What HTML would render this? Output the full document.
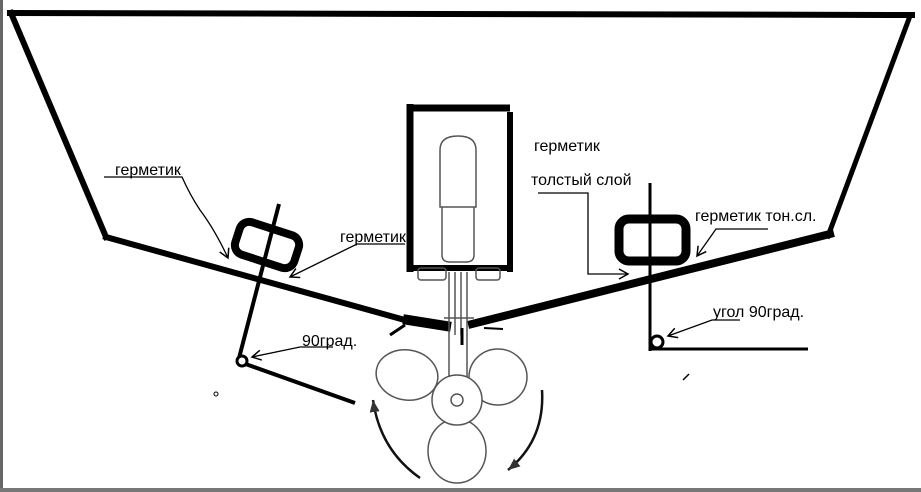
<!DOCTYPE html>
<html><head><meta charset="utf-8"><style>
html,body{margin:0;padding:0;background:#fff;}
svg{display:block}
text{font-family:"Liberation Sans",sans-serif;font-size:16px;fill:#000}
</style></head><body>
<svg width="921" height="492" viewBox="0 0 921 492" xmlns="http://www.w3.org/2000/svg">
<rect x="0" y="0" width="921" height="492" fill="#fff"/>
<rect x="0" y="0" width="3" height="492" fill="#666"/>
<rect x="0" y="488" width="921" height="4" fill="#777"/>
<defs><marker id="a" markerWidth="12" markerHeight="12" refX="10" refY="6" orient="auto" markerUnits="userSpaceOnUse"><path d="M1,1 L10,6 L1,11" fill="none" stroke="#000" stroke-width="1.5"/></marker>
<marker id="f" markerWidth="14" markerHeight="14" refX="12" refY="7" orient="auto" markerUnits="userSpaceOnUse"><path d="M0,2 L12,7 L0,12 Z" fill="#333"/></marker></defs>
<g stroke="#000" fill="none" stroke-linecap="square">
<path d="M10,13 L912,15" stroke-width="6"/>
<path d="M11,13 L106,237" stroke-width="6"/>
<path d="M910,16 L828,236" stroke-width="5"/>
<path d="M106,237 L412,322" stroke-width="6"/>
<path d="M408,320 L446,326" stroke-width="10"/>
<path d="M472,324 L830,234" stroke-width="8"/>
</g>
<g stroke="#000" fill="none">
<path d="M410,104 V272" stroke-width="7"/>
<path d="M407,108 H510" stroke-width="7"/>
<path d="M510,112 V272" stroke-width="6"/>
<path d="M412,268 H507" stroke-width="6"/>
</g>
<g stroke="#555" fill="none" stroke-width="1.5">
<path d="M440,150 Q440,136 458,136 Q476,136 476,150 V207 H440 Z"/>
<path d="M442,207 V255 Q442,262 450,262 H466 Q474,262 474,255 V207"/>
<rect x="418" y="268" width="28" height="12" rx="3"/>
<rect x="476" y="268" width="24" height="12" rx="3"/>
<path d="M449,272 V390 M455,272 V335 M461,272 V335 M467,272 V390"/>
<path d="M444,318 H474"/>
<ellipse cx="407" cy="375" rx="31" ry="25" transform="rotate(10 407 375)"/>
<ellipse cx="498" cy="377" rx="29" ry="28"/>
<ellipse cx="457" cy="451" rx="29" ry="32"/>
<circle cx="457" cy="400" r="25" fill="#fff"/>
<circle cx="457" cy="400" r="6"/>
</g>
<path d="M462,328 V345" stroke="#000" stroke-width="3"/>
<path d="M405,325 L390,335" stroke="#000" stroke-width="3"/>
<path d="M484,328 L503,329" stroke="#000" stroke-width="2"/>
<g stroke="#111" fill="none" stroke-width="2.5">
<path d="M420,478 Q380,450 373,400" marker-end="url(#f)"/>
<path d="M542,390 Q545,440 508,470" marker-end="url(#f)"/>
</g>
<rect x="236" y="228" width="62" height="34" rx="10" fill="none" stroke="#000" stroke-width="8" transform="rotate(18 267 245)"/>
<g stroke="#000" fill="none" stroke-width="4">
<path d="M279,204 L238,362"/>
<path d="M240,362 L355,403"/>
</g>
<circle cx="242" cy="361" r="5" fill="#fff" stroke="#000" stroke-width="3"/>
<circle cx="216" cy="394" r="2" fill="none" stroke="#000" stroke-width="1"/>
<rect x="619" y="219" width="67" height="42" rx="10" fill="none" stroke="#000" stroke-width="9"/>
<g stroke="#000" fill="none" stroke-width="3">
<path d="M650,183 V351"/>
<path d="M650,349 H808"/>
</g>
<circle cx="657" cy="342" r="6" fill="#fff" stroke="#000" stroke-width="3"/>
<path d="M683,380 L689,374" stroke="#000" stroke-width="1.5"/>
<g stroke="#000" fill="none" stroke-width="1.3">
<path d="M104,177 H182 Q190,195 200,210 Q215,230 228,258" marker-end="url(#a)"/>
<path d="M405,244 H357 L290,277" marker-end="url(#a)"/>
<path d="M333,347 H300 L252,357" marker-end="url(#a)"/>
<path d="M538,193 H588 V274 H628" marker-end="url(#a)"/>
<path d="M768,229 H716 L697,256" marker-end="url(#a)"/>
<path d="M740,320 H712 L668,336" marker-end="url(#a)"/>
</g>
<text x="115" y="175">герметик</text>
<text x="340" y="242">герметик</text>
<text x="302" y="346">90град.</text>
<text x="534" y="151">герметик</text>
<text x="531" y="185">толстый слой</text>
<text x="695" y="221">герметик тон.сл.</text>
<text x="713" y="317">угол 90град.</text>
</svg>
</body></html>
